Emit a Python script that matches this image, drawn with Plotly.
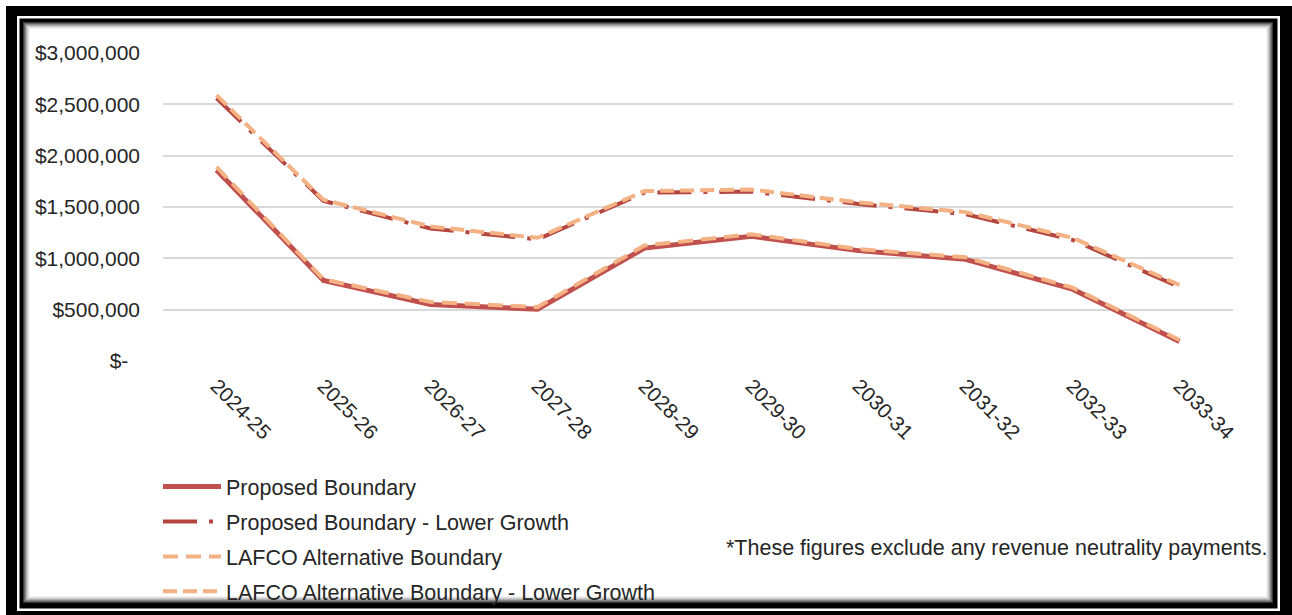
import plotly.graph_objects as go

W, H = 1292, 615
ML, MR, MT, MB = 163, 59, 53, 254

years = ["2024-25", "2025-26", "2026-27", "2027-28", "2028-29",
         "2029-30", "2030-31", "2031-32", "2032-33", "2033-34"]

proposed = [1860000, 785000, 550000, 505000, 1100000, 1215000, 1075000, 990000, 700000, 190000]
proposed_lower = [2560000, 1560000, 1290000, 1185000, 1640000, 1650000, 1530000, 1430000, 1180000, 720000]
lafco_alt = [1890000, 795000, 575000, 525000, 1125000, 1235000, 1090000, 1010000, 715000, 205000]
lafco_alt_lower = [2590000, 1570000, 1310000, 1200000, 1655000, 1670000, 1545000, 1450000, 1200000, 740000]

y_tickvals = [0, 500000, 1000000, 1500000, 2000000, 2500000, 3000000]
y_ticktext = ["$-\u00a0\u00a0", "$500,000", "$1,000,000", "$1,500,000",
              "$2,000,000", "$2,500,000", "$3,000,000"]

note = "*These figures exclude any revenue neutrality payments."

RED = "#C0504D"
RED2 = "#B4463F"
PEACH = "#F4B183"
FONT = "Liberation Sans, Arial, sans-serif"
TXT = "#262626"

fig = go.Figure()
fig.add_trace(go.Scatter(x=years, y=proposed, mode="lines", name="Proposed Boundary",
                         line=dict(color=RED, width=5), legendgroup="a"))
fig.add_trace(go.Scatter(x=years, y=proposed_lower, mode="lines", name="Proposed Boundary - Lower Growth",
                         line=dict(color=RED2, width=4, dash="34px,12px,4px,12px"), legendgroup="b"))
fig.add_trace(go.Scatter(x=years, y=lafco_alt, mode="lines", name="LAFCO Alternative Boundary",
                         line=dict(color=PEACH, width=4, dash="15px,8px"), legendgroup="c"))
fig.add_trace(go.Scatter(x=years, y=lafco_alt_lower, mode="lines", name="LAFCO Alternative Boundary - Lower Growth",
                         line=dict(color=PEACH, width=4, dash="14px,6px"), legendgroup="d"))

PW = W - ML - MR
PH = H - MT - MB


def px(x):
    return (x - ML) / PW


def py(y):
    return (H - MB - y) / PH


shapes = []


def rect(x0, y0, x1, y1, color):
    shapes.append(dict(type="rect", xref="paper", yref="paper", layer="below",
                       x0=px(x0), x1=px(x1), y0=py(y1), y1=py(y0),
                       fillcolor=color, line=dict(width=0)))


rect(6, 6, 1292, 615, "black")
rect(17, 16, 1280, 611, "white")
rect(19.5, 18.5, 1277.5, 608.5, "black")
shade = ["#3a3a3a", "#626262", "#8a8a8a", "#adadad", "#cbcbcb", "#e2e2e2", "#f2f2f2", "#ffffff"]
for i, c in enumerate(shade):
    rect(23 + i, 22 + i, 1273 - i, 603 - i, c)

fig.update_layout(
    width=W, height=H,
    margin=dict(l=ML, r=MR, t=MT, b=MB, autoexpand=False),
    paper_bgcolor="white",
    plot_bgcolor="rgba(0,0,0,0)",
    shapes=shapes,
    font=dict(family=FONT, size=20, color=TXT),
    showlegend=True,
    legend=dict(x=px(158), y=py(466), xanchor="left", yanchor="top",
                bgcolor="rgba(0,0,0,0)", itemwidth=58, tracegroupgap=4,
                font=dict(size=21.5, color=TXT)),
    xaxis=dict(type="category", tickangle=45, showgrid=False, showline=False,
               zeroline=False, ticks="", ticklabelstandoff=8, automargin=False,
               tickfont=dict(size=20.5, color=TXT), range=[-0.5, 9.5]),
    yaxis=dict(range=[0, 3000000], tickvals=y_tickvals, ticktext=y_ticktext,
               showgrid=True, gridcolor="#D9D9D9", gridwidth=1.5, zeroline=False,
               showline=False, ticks="", ticklabelstandoff=22, automargin=False,
               tickfont=dict(size=21, color=TXT)),
    annotations=[dict(text=note, xref="paper", yref="paper", x=px(1269), y=py(548),
                      xanchor="right", yanchor="middle", showarrow=False,
                      font=dict(size=21.5, color=TXT))],
)

fig.write_html("out.html")
